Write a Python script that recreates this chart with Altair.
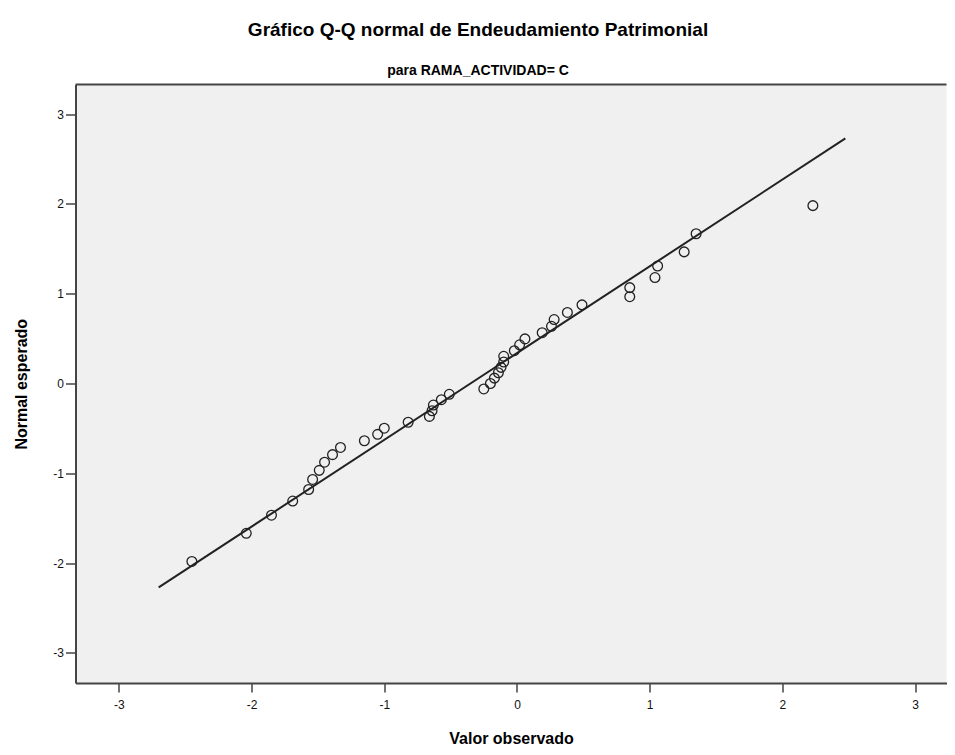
import altair as alt
import pandas as pd

observed = [-2.45, -2.04, -1.85, -1.69, -1.57, -1.54, -1.49, -1.45, -1.39, -1.33,
            -1.15, -1.05, -1.00, -0.82, -0.66, -0.64, -0.63, -0.57, -0.51, -0.25,
            -0.20, -0.17, -0.14, -0.12, -0.10, -0.10, -0.02, 0.02, 0.06, 0.19,
            0.26, 0.28, 0.38, 0.49, 0.85, 0.85, 1.04, 1.06, 1.26, 1.35, 2.23]
expected = [-1.981, -1.668, -1.466, -1.309, -1.180, -1.068, -0.967, -0.876, -0.792, -0.712,
            -0.637, -0.566, -0.497, -0.431, -0.366, -0.303, -0.240, -0.180, -0.120, -0.060,
            0.000, 0.060, 0.120, 0.180, 0.240, 0.303, 0.366, 0.431, 0.497, 0.566,
            0.637, 0.712, 0.792, 0.876, 0.967, 1.068, 1.180, 1.309, 1.466, 1.668, 1.981]

# Reference line endpoints
line_x = [-2.70, 2.475]
line_y = [-2.27, 2.73]

tick_values = [-3, -2, -1, 0, 1, 2, 3]

W, H = 871, 598.5
FONT = "Liberation Sans"

pts = pd.DataFrame({"obs": observed, "exp": expected})
ln = pd.DataFrame({"obs": line_x, "exp": line_y})
frame = pd.DataFrame({"y": [3.33]})

xscale = alt.Scale(domain=[-3.327, 3.237], nice=False, zero=False)
yscale = alt.Scale(domain=[-3.335, 3.33], nice=False, zero=False)

xaxis = alt.Axis(values=tick_values, labelExpr="'' + datum.value", title="Valor observado",
                 grid=False, labelFontSize=12, labelColor="#111", labelFont=FONT,
                 tickColor="#444", tickSize=9, tickWidth=1.5, domainColor="#444", domainWidth=2,
                 titleFontSize=16, titleFont=FONT, titleFontWeight="bold", titleColor="#000",
                 titlePadding=20, labelPadding=7)
yaxis = alt.Axis(values=tick_values, labelExpr="'' + datum.value", title="Normal esperado",
                 grid=False, labelFontSize=12, labelColor="#111", labelFont=FONT,
                 tickColor="#444", tickSize=10, tickWidth=1.5, domainColor="#444", domainWidth=2,
                 titleFontSize=16, titleFont=FONT, titleFontWeight="bold", titleColor="#000",
                 titlePadding=23, labelPadding=2)

points = alt.Chart(pts).mark_point(shape="circle", filled=False, size=95, stroke="#222",
                                   strokeWidth=1.3, opacity=1).encode(
    x=alt.X("obs:Q", scale=xscale, axis=xaxis),
    y=alt.Y("exp:Q", scale=yscale, axis=yaxis),
)

line = alt.Chart(ln).mark_line(color="#222", strokeWidth=2).encode(
    x=alt.X("obs:Q", scale=xscale),
    y=alt.Y("exp:Q", scale=yscale),
)

top_border = alt.Chart(frame).mark_rule(color="#444", strokeWidth=2).encode(
    y=alt.value(0), x=alt.value(0), x2=alt.value(W)
)

chart = alt.layer(top_border, line, points).properties(
    width=W, height=H,
    autosize=alt.AutoSizeParams(type="none"),
    padding={"left": 67.5, "top": 76.5, "right": 0, "bottom": 62},
    title=alt.Title(
        text="Gráfico Q-Q normal de Endeudamiento Patrimonial",
        subtitle="para RAMA_ACTIVIDAD= C",
        anchor="middle", dx=-33, offset=6,
        font=FONT, fontSize=19, fontWeight="bold", color="#000",
        subtitleFont=FONT, subtitleFontSize=14, subtitleFontWeight="bold",
        subtitleColor="#000", subtitlePadding=24,
    ),
).configure(background="white").configure_view(fill="#F0F0F0", strokeWidth=0)

chart.save("out.html", embed_options={"renderer": "svg", "actions": False})
